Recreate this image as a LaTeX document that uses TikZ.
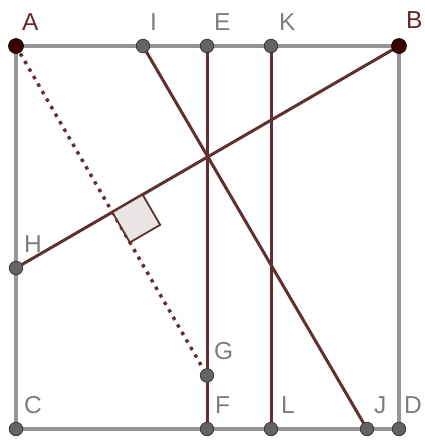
\documentclass[tikz,border=0pt]{standalone}
\usepackage{fontspec}
\setmainfont{Liberation Sans}
\usetikzlibrary{calc}
\definecolor{sidegray}{RGB}{150,150,150}
\definecolor{segbrown}{RGB}{96,48,48}
\definecolor{ptgray}{RGB}{100,100,100}
\definecolor{ptedge}{RGB}{55,55,55}
\definecolor{darkpt}{RGB}{60,0,0}
\definecolor{lblgray}{RGB}{125,125,125}
\definecolor{lblbrown}{RGB}{100,40,40}
\definecolor{markfill}{RGB}{232,226,226}

\begin{document}
\begin{tikzpicture}[x=1pt, y=-1pt,
  side/.style={draw=sidegray, line width=3.4pt},
  seg/.style={draw=segbrown, line width=3pt},
  perp/.style={draw=segbrown, line width=3.4pt, dash pattern=on 3.4pt off 5.3pt},
  pt/.style={circle, fill=ptgray, draw=ptedge, line width=0.8pt, inner sep=0pt, minimum size=13.5pt},
  hub/.style={circle, fill=darkpt, draw=black, line width=0.6pt, inner sep=0pt, minimum size=15pt},
  lbl/.style={anchor=base west, inner sep=0pt, text=lblgray, font=\fontsize{24.5}{24.5}\selectfont},
  hublbl/.style={lbl, text=lblbrown}]
  \useasboundingbox (0,0) rectangle (424,440);

  % corners and points on the sides
  \coordinate (A) at (16,46);
  \coordinate (B) at (399,46);
  \coordinate (C) at (16,429);
  \coordinate (D) at (399,429);
  \coordinate (I) at (143,46);
  \coordinate (E) at (207,46);
  \coordinate (K) at (271,46);
  \coordinate (H) at (16,268);
  \coordinate (F) at (207,429);
  \coordinate (L) at (271,429);
  \coordinate (J) at (367,429);
  % foot of the perpendicular from A, and G on EF
  \coordinate (P) at ($(B)!(A)!(H)$);
  \coordinate (G) at (intersection of A--P and E--F);

  \draw[side] (A) -- (B) -- (D) -- (C) -- cycle;
  \draw[seg] (B) -- (H);
  \draw[seg] (I) -- (J);
  \draw[seg] (E) -- (F);
  \draw[seg] (K) -- (L);
  \draw[perp] (A) -- (G);

  % right angle mark
  \coordinate (mB) at ($(P)!35pt!(B)$);
  \coordinate (mG) at ($(P)!35pt!(G)$);
  \draw[segbrown, line width=1.8pt, fill=markfill, fill opacity=0.9]
    (P) -- (mB) -- ($(mB)+(mG)-(P)$) -- (mG) -- cycle;

  \foreach \p in {I,E,K,H,G,C,F,L,J,D}
    \node[pt] (d\p) at (\p) {};
  \node[hub] (dA) at (A) {};
  \node[hub] (dB) at (B) {};

  \node[hublbl] (lA) at ([shift={(6,-16)}]A) {A};
  \node[hublbl] (lB) at ([shift={(7,-18)}]B) {B};
  \foreach \p/\dx in {I/7,E/7,K/8,H/8,G/7,C/8,F/8,L/10,J/7,D/5}
    \node[lbl] (l\p) at ([shift={(\dx,-16)}]\p) {\p};
\end{tikzpicture}
\end{document}
